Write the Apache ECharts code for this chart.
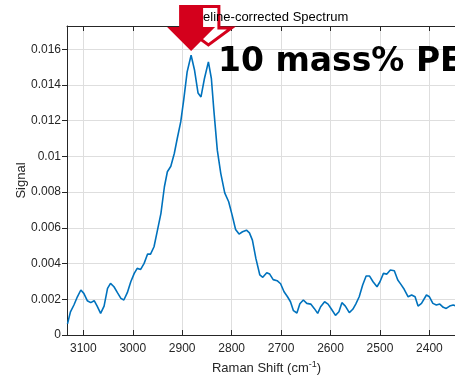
<!DOCTYPE html>
<html>
<head>
<meta charset="utf-8">
<title>Baseline-corrected Spectrum</title>
<script src="https://cdn.jsdelivr.net/npm/echarts@6/dist/echarts.min.js"></script>
<style>
  html, body { margin: 0; padding: 0; background: #ffffff; }
  #chart { width: 455px; height: 377px; }
</style>
</head>
<body>
<div id="chart"></div>
<script>
// Raman shift (cm^-1), high to low, and baseline-corrected signal
const ramanShift = [
  3132, 3126, 3119, 3112, 3105, 3099, 3092, 3085, 3078, 3072,
  3065, 3058, 3051, 3045, 3038, 3031, 3024, 3018, 3011, 3004,
  2997, 2991, 2984, 2977, 2970, 2964, 2957, 2950, 2943, 2936,
  2930, 2923, 2916, 2910, 2903, 2897, 2890, 2882, 2875, 2868,
  2862, 2855, 2847, 2841, 2836, 2829, 2822, 2814, 2806, 2799,
  2792, 2785, 2778, 2770, 2764, 2758, 2751, 2743, 2737, 2729,
  2723, 2716, 2708, 2701, 2694, 2687, 2681, 2675, 2668, 2662,
  2655, 2648, 2640, 2633, 2626, 2620, 2612, 2605, 2598, 2590,
  2583, 2577, 2570, 2562, 2555, 2549, 2542, 2535, 2528, 2521,
  2514, 2506, 2500, 2493, 2486, 2479, 2471, 2464, 2458, 2451,
  2443, 2436, 2429, 2423, 2416, 2406, 2400, 2393, 2386, 2379,
  2372, 2366, 2359, 2352, 2346
];
const signal = [
  0.00062, 0.00130, 0.00168, 0.00214, 0.00252, 0.00233, 0.00192, 0.00181, 0.00192, 0.00162,
  0.00121, 0.00162, 0.00261, 0.00289, 0.00270, 0.00237, 0.00205, 0.00196, 0.00237, 0.00298,
  0.00345, 0.00373, 0.00367, 0.00401, 0.00453, 0.00453, 0.00494, 0.00587, 0.00681, 0.00830,
  0.00914, 0.00945, 0.01016, 0.01100, 0.01193, 0.01315, 0.01473, 0.01566, 0.01482, 0.01355,
  0.01333, 0.01436, 0.01529, 0.01436, 0.01259, 0.01035, 0.00905, 0.00796, 0.00746, 0.00671,
  0.00591, 0.00565, 0.00578, 0.00587, 0.00572, 0.00531, 0.00429, 0.00336, 0.00323, 0.00349,
  0.00341, 0.00310, 0.00304, 0.00287, 0.00242, 0.00214, 0.00186, 0.00136, 0.00123, 0.00175,
  0.00196, 0.00177, 0.00173, 0.00149, 0.00121, 0.00158, 0.00186, 0.00173, 0.00144, 0.00110,
  0.00130, 0.00181, 0.00162, 0.00125, 0.00144, 0.00173, 0.00214, 0.00280, 0.00330, 0.00330,
  0.00298, 0.00270, 0.00298, 0.00345, 0.00341, 0.00364, 0.00360, 0.00308, 0.00285, 0.00256,
  0.00214, 0.00224, 0.00214, 0.00162, 0.00177, 0.00224, 0.00214, 0.00177, 0.00168, 0.00173,
  0.00155, 0.00149, 0.00162, 0.00168, 0.00162
];

// Axis ticks
const shiftTicks = [3100, 3000, 2900, 2800, 2700, 2600, 2500, 2400];
const signalTicks = [0, 0.002, 0.004, 0.006, 0.008, 0.010, 0.012, 0.014, 0.016];

// CH2 stretching peaks marked with arrows
const peakShifts = [2882, 2847];

const titleText = 'Baseline-corrected Spectrum';
const sampleLabel = '10 mass% PE';

const FONT = '"Liberation Sans", Arial, Helvetica, sans-serif';
const AXIS_COLOR = '#262626';
const RED = '#d4001c';

const shiftMin = 2326, shiftMax = 3133;
const signalMax = 0.0173;

const chart = echarts.init(document.getElementById('chart'), null, { renderer: 'canvas' });

const spectrum = ramanShift.map((s, i) => [s, signal[i]]);

chart.setOption({
  animation: false,
  backgroundColor: '#ffffff',
  grid: { left: 67, top: 26, right: -11, bottom: 42, outerBoundsMode: 'none' },
  xAxis: [
    {
      type: 'value',
      position: 'bottom',
      inverse: true,
      min: shiftMin,
      max: shiftMax,
      name: 'Raman Shift (cm{sup|-1})',
      nameLocation: 'middle',
      nameGap: 25,
      nameMoveOverlap: false,
      nameTextStyle: {
        fontFamily: FONT, fontSize: 13, color: AXIS_COLOR, lineHeight: 16,
        rich: { sup: { fontFamily: FONT, fontSize: 9, color: AXIS_COLOR, lineHeight: 8, verticalAlign: 'top' } }
      },
      axisLine: { show: true, onZero: false, lineStyle: { color: AXIS_COLOR, width: 1 } },
      axisTick: { show: true, inside: true, length: 5, customValues: shiftTicks, lineStyle: { color: AXIS_COLOR } },
      axisLabel: {
        show: true, margin: 8, customValues: shiftTicks,
        fontFamily: FONT, fontSize: 12, color: AXIS_COLOR,
        formatter: v => String(Math.round(v))
      },
      splitLine: { show: true, lineStyle: { color: '#dedede', width: 1 } }
    },
    {
      type: 'value',
      position: 'top',
      inverse: true,
      min: shiftMin,
      max: shiftMax,
      axisLine: { show: true, onZero: false, lineStyle: { color: AXIS_COLOR, width: 1 } },
      axisTick: { show: true, inside: true, length: 5, customValues: shiftTicks, lineStyle: { color: AXIS_COLOR } },
      axisLabel: { show: false },
      splitLine: { show: false }
    }
  ],
  yAxis: {
    type: 'value',
    min: 0,
    max: signalMax,
    interval: 0.002,
    name: 'Signal',
    nameLocation: 'middle',
    nameGap: 39,
    nameMoveOverlap: false,
    nameTextStyle: { fontFamily: FONT, fontSize: 13, color: AXIS_COLOR, lineHeight: 13 },
    axisLine: { show: true, onZero: false, lineStyle: { color: AXIS_COLOR, width: 1 } },
    axisTick: { show: true, inside: false, length: 5, customValues: signalTicks, lineStyle: { color: AXIS_COLOR } },
    axisLabel: {
      margin: 6, fontFamily: FONT, fontSize: 12, color: AXIS_COLOR,
      customValues: signalTicks,
      formatter: v => String(+v.toFixed(3))
    },
    splitLine: { show: true, lineStyle: { color: '#dedede', width: 1 } }
  },
  series: [{
    type: 'line',
    data: spectrum,
    showSymbol: false,
    smooth: false,
    clip: true,
    lineStyle: { color: '#0072bd', width: 1.6 },
    z: 3
  }]
});

// Annotations: title, peak arrows and sample label
function arrowPoints(tx, ty, headHalf, shaftHalf, headBaseY, topY) {
  return [
    [tx - shaftHalf, topY], [tx + shaftHalf, topY], [tx + shaftHalf, headBaseY],
    [tx + headHalf, headBaseY], [tx, ty], [tx - headHalf, headBaseY], [tx - shaftHalf, headBaseY]
  ];
}

const leftPx = chart.convertToPixel({ xAxisIndex: 0 }, shiftMax);
const rightPx = chart.convertToPixel({ xAxisIndex: 0 }, shiftMin);
const centerPx = (leftPx + rightPx) / 2;
const peak1Px = chart.convertToPixel({ xAxisIndex: 0 }, peakShifts[0]);
const peak2Px = chart.convertToPixel({ xAxisIndex: 0 }, peakShifts[1]);

chart.setOption({
  graphic: [
    {
      type: 'polygon', z: 100, silent: true,
      shape: { points: arrowPoints(peak2Px, 45, 23, 10.5, 28, 6.5) },
      style: { fill: '#ffffff', stroke: RED, lineWidth: 3, lineJoin: 'miter' }
    },
    {
      type: 'text', z: 101, silent: true,
      x: centerPx - 2, y: 17,
      style: {
        text: titleText, fill: '#000000',
        font: '13px ' + FONT,
        align: 'center', verticalAlign: 'middle',
        textAlign: 'center', textVerticalAlign: 'middle'
      }
    },
    {
      type: 'polygon', z: 102, silent: true,
      shape: { points: arrowPoints(peak1Px, 51, 24, 12, 27, 5) },
      style: { fill: RED, stroke: null }
    },
    {
      type: 'text', z: 103, silent: true,
      x: 218, y: 62,
      style: {
        text: sampleLabel, fill: '#000000',
        font: 'bold 33px "DejaVu Sans", Verdana, sans-serif',
        align: 'left', verticalAlign: 'middle',
        textAlign: 'left', textVerticalAlign: 'middle'
      }
    }
  ]
});
</script>
</body>
</html>
